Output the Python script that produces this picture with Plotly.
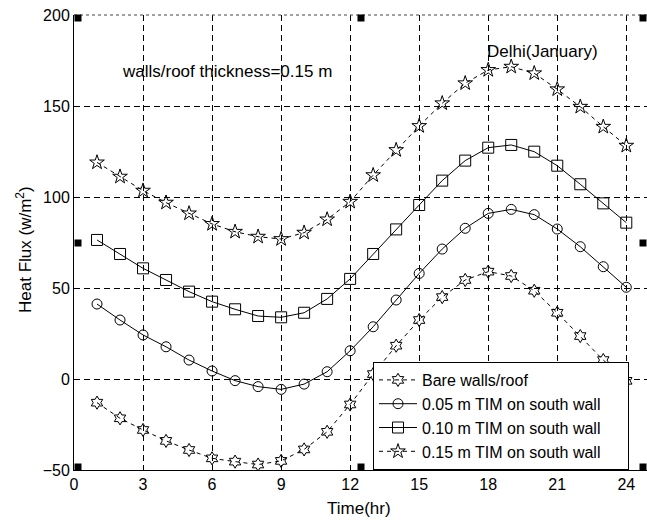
import plotly.graph_objects as go

hours = list(range(1, 25))
bare = [-13, -21.6, -28, -34, -39, -43.6, -45.4, -47, -45, -38.7, -29, -14,
        2.7, 18.3, 32.4, 45, 54.4, 59, 56.6, 48.5, 36.4, 23.6, 10.4, -1]
tim005 = [41.2, 32.4, 24.2, 17.7, 10.4, 4.4, -0.9, -4.2, -5.7, -2.8, 4, 15.5,
          28.7, 43.4, 58, 71.4, 82.8, 91, 93.2, 90.3, 82.4, 72.7, 61.7, 50.4]
tim010 = [76.4, 68.7, 60.8, 54.4, 48, 42.5, 38.3, 34.6, 33.9, 36.4, 44, 55,
          68.7, 82.2, 95.6, 109, 120, 127.1, 128.6, 124.9, 117.2, 107, 96.5, 85.9]
tim015 = [119, 111.2, 103.5, 96.9, 91, 85.2, 80.9, 78.2, 76.9, 80.4, 87.7, 97.4,
          112, 125.8, 139, 151.5, 162.5, 169.8, 171.6, 168, 159.2, 149.6, 138.6, 128.2]

names = ["Bare walls/roof", "0.05 m TIM on south wall",
         "0.10 m TIM on south wall", "0.15 m TIM on south wall"]
x_ticks = [0, 3, 6, 9, 12, 15, 18, 21, 24]
y_ticks = [-50, 0, 50, 100, 150, 200]

FONT = "Liberation Sans, Arial, sans-serif"
PAD = "\u00a0" * 5  # widens the legend box to match the reference

fig = go.Figure()
series = [
    (bare, "hexagram-open", "dash", 10),
    (tim005, "circle-open", "solid", 10),
    (tim010, "square-open", "solid", 11),
    (tim015, "star-open", "dash", 11),
]
for name, (vals, sym, dash, sz) in zip(names, series):
    fig.add_trace(go.Scatter(
        x=hours, y=vals, name=name + PAD, mode="lines+markers",
        line=dict(color="black", width=1, dash=dash if dash == "solid" else "4px,4px"),
        marker=dict(symbol=sym, size=sz, color="black", line=dict(color="black", width=1)),
    ))

fig.update_xaxes(
    range=[0, 24.9], tickvals=x_ticks, ticks="inside", ticklen=5, tickcolor="black",
    showgrid=True, gridcolor="black", gridwidth=1, griddash="6px,4px",
    showline=True, linecolor="black", linewidth=1, zeroline=False,
    tickfont=dict(family=FONT, size=16, color="black"),
)
fig.update_yaxes(
    range=[-50, 200], tickvals=y_ticks, ticks="inside", ticklen=5, tickcolor="black",
    showgrid=True, gridcolor="black", gridwidth=1, griddash="6px,4px",
    showline=True, linecolor="black", linewidth=1, zeroline=False,
    tickfont=dict(family=FONT, size=16, color="black"),
)

# plot area geometry in pixels
L, R, T, B = 74, 647, 15, 470
W, H = R - L, B - T

def px(x):
    return (x - L) / W

def py(y):
    return (B - y) / H

shapes = [dict(type="line", xref="paper", yref="paper", x0=0, x1=1, y0=1, y1=1,
               line=dict(color="#444", width=1, dash="dot"))]
for cx in (78, 361, 643):
    for cy in (18, 243, 467):
        if cx == 361 and cy == 243:
            continue
        shapes.append(dict(type="rect", xref="paper", yref="paper",
                           x0=px(cx - 3.5), x1=px(cx + 3.5), y0=py(cy + 3.5), y1=py(cy - 3.5),
                           fillcolor="black", line=dict(width=0)))

fig.update_layout(
    width=647, height=525,
    margin=dict(l=L, r=647 - R, t=T, b=525 - B),
    paper_bgcolor="white", plot_bgcolor="white",
    showlegend=True,
    legend=dict(x=px(373), y=0, xanchor="left", yanchor="bottom",
                bgcolor="white", bordercolor="black", borderwidth=1,
                font=dict(family=FONT, size=16, color="black"),
                tracegroupgap=0, itemwidth=38),
    shapes=shapes,
    annotations=[
        dict(text="walls/roof thickness=0.15 m", x=2, y=169, xref="x", yref="y",
             xanchor="left", yanchor="middle", showarrow=False,
             font=dict(family=FONT, size=17, color="black")),
        dict(text="Delhi(January)", x=17.85, y=180, xref="x", yref="y",
             xanchor="left", yanchor="middle", showarrow=False,
             font=dict(family=FONT, size=17, color="black")),
        dict(text="Time(hr)", x=px(359), y=py(509), xref="paper", yref="paper",
             xanchor="center", yanchor="middle", showarrow=False,
             font=dict(family=FONT, size=17, color="black")),
        dict(text="Heat Flux (w/m<sup>2</sup>)", x=px(24), y=py(250), xref="paper", yref="paper",
             xanchor="center", yanchor="middle", showarrow=False, textangle=-90,
             font=dict(family=FONT, size=17, color="black")),
    ],
)

fig.write_html("out.html")
